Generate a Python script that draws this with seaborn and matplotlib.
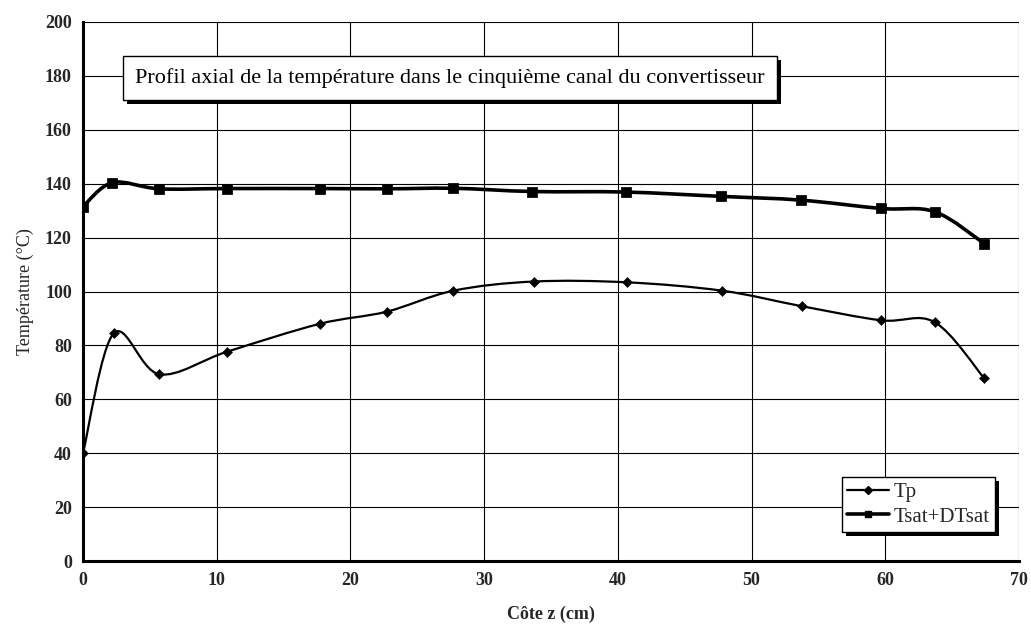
import numpy as np
import matplotlib
matplotlib.use("Agg")
import matplotlib.pyplot as plt
import seaborn as sns
import pandas as pd
from matplotlib.path import Path
from matplotlib.patches import PathPatch
from matplotlib.lines import Line2D
import matplotlib.patheffects as pe

# ---- data ----
z_tp = [0, 2.3, 5.7, 10.8, 17.7, 22.7, 27.7, 33.7, 40.7, 47.8, 53.8, 59.7, 63.7, 67.4]
tp = [40, 84.5, 69.3, 77.7, 88.0, 92.5, 100.3, 103.7, 103.4, 100.3, 94.5, 89.3, 88.6, 67.8]
z_ts = [0, 2.2, 5.7, 10.8, 17.7, 22.7, 27.7, 33.6, 40.6, 47.7, 53.7, 59.7, 63.7, 67.4]
ts = [131.5, 140.4, 138.1, 138.2, 138.2, 138.1, 138.3, 137.1, 136.9, 135.3, 133.9, 130.8, 129.6, 117.8]
x_ticks = [0, 10, 20, 30, 40, 50, 60, 70]
y_ticks = [0, 20, 40, 60, 80, 100, 120, 140, 160, 180, 200]
title = "Profil axial de la température dans le cinquième canal du convertisseur"
series_names = ["Tp", "Tsat+DTsat"]

sns.set_theme(style="white")
plt.rcParams['font.family'] = ['Liberation Serif', 'DejaVu Serif']

fig = plt.figure(figsize=(10.31, 6.28), dpi=100)
ax = fig.add_axes([83/1031, 1-561/628, (1019-83)/1031, (561-22)/628])


def smooth_path(x, y):
    pts = np.column_stack([x, y]).astype(float)
    n = len(pts)
    verts = [pts[0]]
    codes = [Path.MOVETO]
    for i in range(n - 1):
        p0 = pts[i - 1] if i > 0 else pts[i]
        p1 = pts[i]
        p2 = pts[i + 1]
        p3 = pts[i + 2] if i + 2 < n else pts[i + 1]
        c1 = p1 + (p2 - p0) / 6.0
        c2 = p2 - (p3 - p1) / 6.0
        verts += [c1, c2, p2]
        codes += [Path.CURVE4] * 3
    return Path(verts, codes)


ax.add_patch(PathPatch(smooth_path(z_tp, tp), fill=False, edgecolor='black', lw=1.6, zorder=3))
ax.add_patch(PathPatch(smooth_path(z_ts, ts), fill=False, edgecolor='black', lw=2.6, zorder=3))

df_tp = pd.DataFrame({"z": z_tp, "T": tp})
df_ts = pd.DataFrame({"z": z_ts, "T": ts})
sns.scatterplot(data=df_tp, x="z", y="T", marker="D", s=26, color="black", edgecolor="black", ax=ax, zorder=4)
sns.scatterplot(data=df_ts, x="z", y="T", marker="s", s=45, color="black", edgecolor="black", ax=ax, zorder=4)

ax.set_xlim(0, 70)
ax.set_ylim(0, 200)
ax.set_xticks(x_ticks)
ax.set_yticks(y_ticks)
ax.set_xticklabels([str(v) for v in x_ticks], fontsize=13, fontweight='bold')
ax.set_yticklabels([str(v) for v in y_ticks], fontsize=13, fontweight='bold')
ax.grid(True, color='black', lw=0.8)
ax.set_axisbelow(True)
for s in ['top', 'right']:
    ax.spines[s].set_visible(False)
for s in ['left', 'bottom']:
    ax.spines[s].set_linewidth(2.2)
    ax.spines[s].set_color('black')
ax.tick_params(axis='both', direction='inout', length=8, width=2, color='black', pad=4)
ax.set_xlabel("Côte z (cm)", fontsize=13, fontweight='bold', labelpad=12)
ax.set_ylabel("Température (°C)", fontsize=13, labelpad=8)

# title box with shadow
t = ax.text(27.45, 179.3, title, fontsize=16, ha='center', va='center', color='black',
            bbox=dict(boxstyle='square,pad=0.55', facecolor='white', edgecolor='black', linewidth=1.0),
            zorder=6)
t.get_bbox_patch().set_path_effects([
    pe.SimplePatchShadow(offset=(3, -3), shadow_rgbFace='black', alpha=1.0),
    pe.Normal()])

handles = [Line2D([0], [0], color='black', lw=1.6, marker='D', markersize=4),
           Line2D([0], [0], color='black', lw=2.6, marker='s', markersize=4)]
leg = ax.legend(handles, series_names, loc='lower right', bbox_to_anchor=(0.974, 0.054),
                fontsize=15, frameon=True, fancybox=False, shadow=False, edgecolor='black',
                framealpha=1, handlelength=2.0, handletextpad=0.2, borderpad=0.25, labelspacing=0.25,
                borderaxespad=0)
leg.get_frame().set_linewidth(1.0)
leg.get_frame().set_path_effects([
    pe.SimplePatchShadow(offset=(3, -3), shadow_rgbFace='black', alpha=1.0),
    pe.Normal()])
leg.set_zorder(7)

fig.savefig("out.png", dpi=100)
